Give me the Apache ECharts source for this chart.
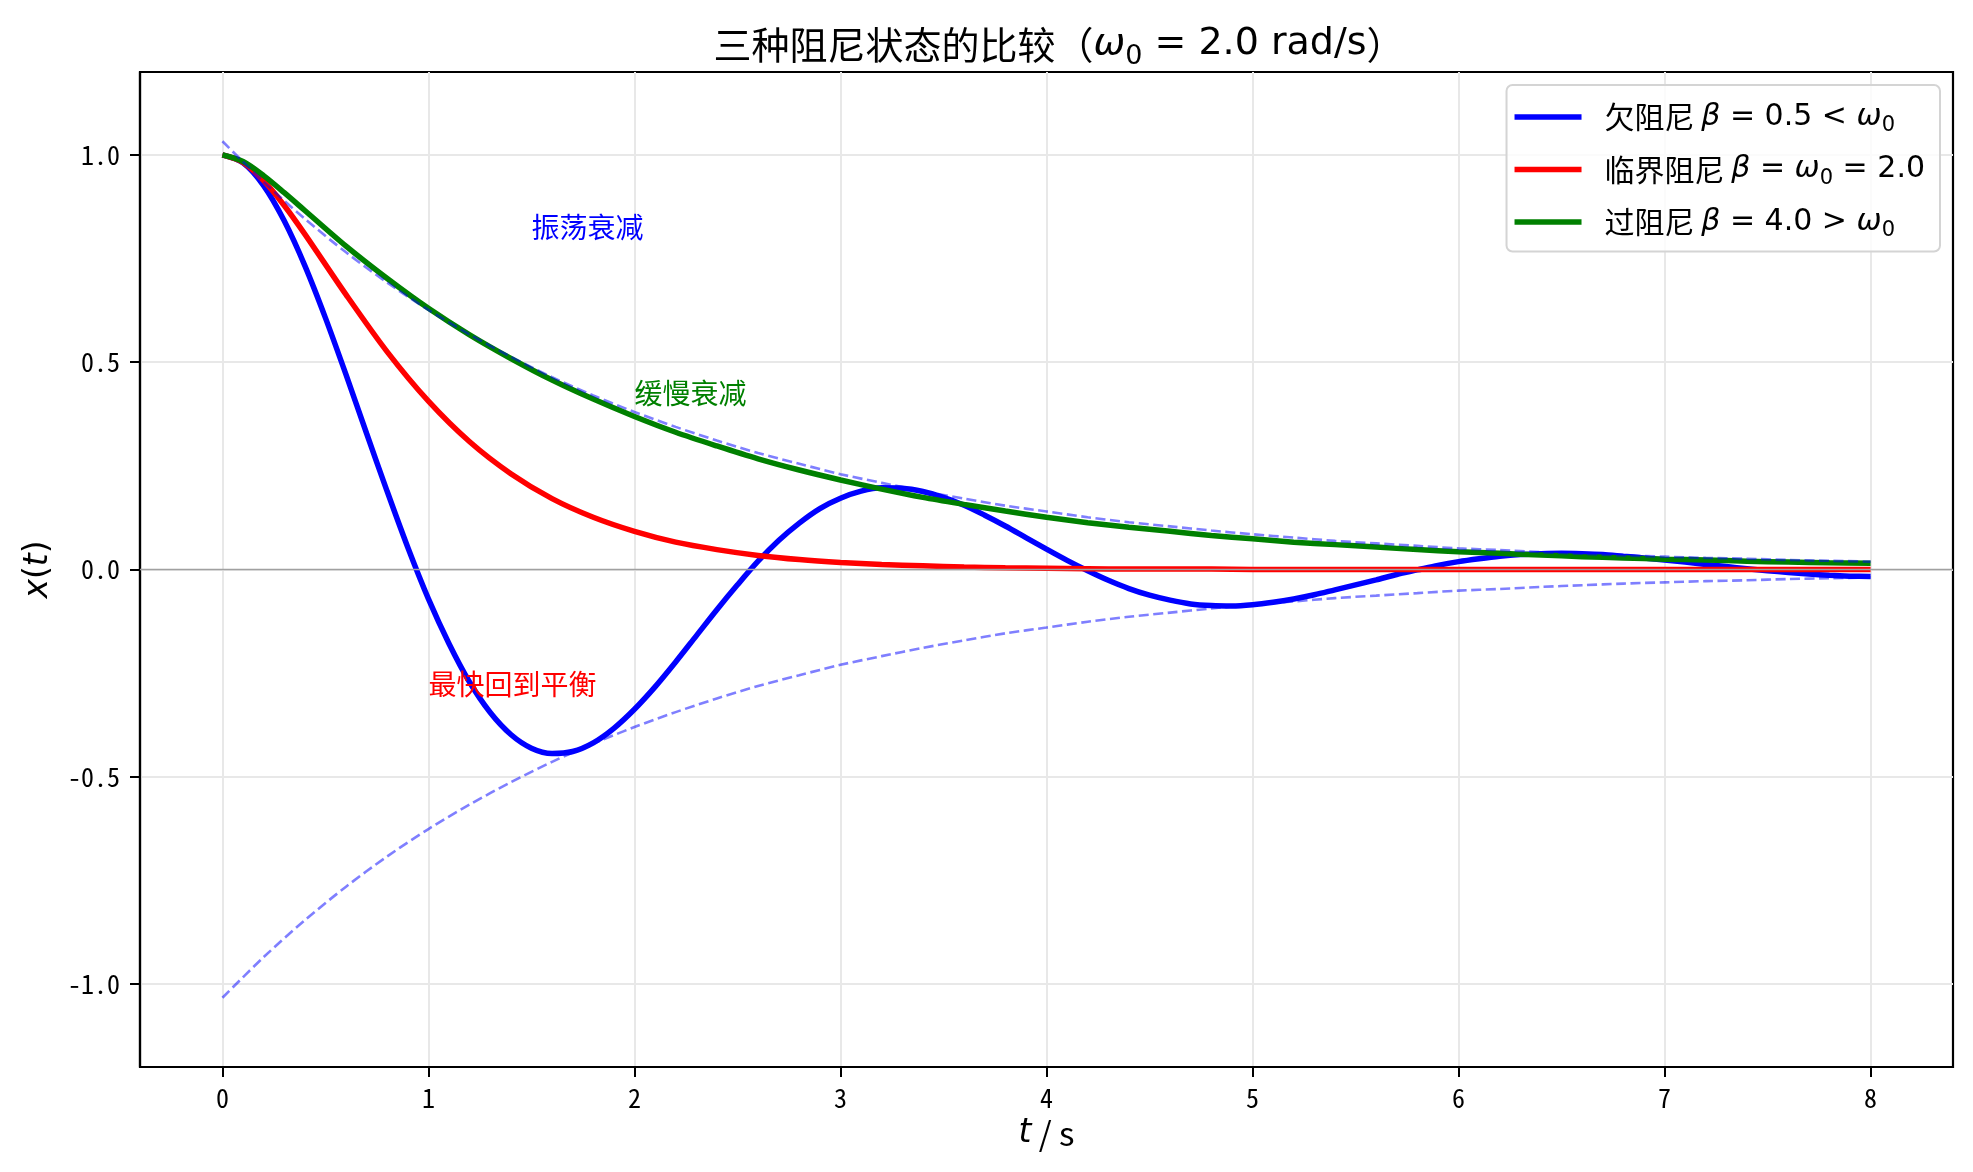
<!DOCTYPE html>
<html>
<head>
<meta charset="utf-8">
<title>三种阻尼状态的比较</title>
<script src="https://cdn.jsdelivr.net/npm/echarts@6/dist/echarts.min.js"></script>
<style>
  html, body { margin: 0; padding: 0; background: #fff; }
  #chart { width: 1973px; height: 1172px; }
</style>
</head>
<body>
<div id="chart"></div>
<script>
// time samples, s (denser near t = 0 and for the oscillating curve)
var tValues = [0, 0.1, 0.2, 0.3, 0.4, 0.6, 0.8, 1.0, 1.2, 1.4, 1.6, 1.8, 2.0, 2.2, 2.4, 2.6, 2.8, 3.0, 3.2, 3.4, 3.6, 3.8, 4.0,
    4.2, 4.4, 4.6, 4.8, 5.0, 5.2, 5.4, 5.6, 5.8, 6.0, 6.2, 6.4, 6.6, 6.8, 7.0, 7.2, 7.4, 7.6, 7.8, 8.0];
var tEnvelope = [0, 0.2, 0.4, 0.6, 0.8, 1.0, 1.2, 1.4, 1.6, 1.8, 2.0, 2.2, 2.4, 2.6, 2.8, 3.0, 3.2, 3.4, 3.6, 3.8, 4.0,
    4.2, 4.4, 4.6, 4.8, 5.0, 5.2, 5.4, 5.6, 5.8, 6.0, 6.2, 6.4, 6.6, 6.8, 7.0, 7.2, 7.4, 7.6, 7.8, 8.0];
var tFine = [0, 0.1, 0.2, 0.3, 0.4, 0.5, 0.6, 0.7, 0.8, 0.9, 1.0, 1.1, 1.2, 1.3, 1.4, 1.5, 1.6, 1.7, 1.8, 1.9, 2.0,
    2.1, 2.2, 2.3, 2.4, 2.5, 2.6, 2.7, 2.8, 2.9, 3.0, 3.1, 3.2, 3.3, 3.4, 3.5, 3.6, 3.7, 3.8, 3.9, 4.0,
    4.1, 4.2, 4.3, 4.4, 4.5, 4.6, 4.7, 4.8, 4.9, 5.0, 5.1, 5.2, 5.3, 5.4, 5.5, 5.6, 5.7, 5.8, 5.9, 6.0,
    6.1, 6.2, 6.3, 6.4, 6.5, 6.6, 6.7, 6.8, 6.9, 7.0, 7.1, 7.2, 7.3, 7.4, 7.5, 7.6, 7.7, 7.8, 7.9, 8.0];

// x(t)
var underDamped = [1.000, 0.981, 0.926, 0.841, 0.733, 0.607, 0.470, 0.328, 0.188, 0.053, -0.071,
    -0.179, -0.272, -0.345, -0.398, -0.431, -0.444, -0.439, -0.418, -0.383, -0.337,
    -0.283, -0.223, -0.160, -0.097, -0.037, 0.020, 0.070, 0.112, 0.147, 0.172,
    0.189, 0.197, 0.196, 0.188, 0.174, 0.155, 0.131, 0.105, 0.077, 0.049,
    0.022, -0.003, -0.026, -0.046, -0.062, -0.074, -0.083, -0.087, -0.088, -0.085,
    -0.079, -0.071, -0.061, -0.049, -0.037, -0.025, -0.012, -0.001, 0.010, 0.019,
    0.026, 0.032, 0.036, 0.038, 0.039, 0.038, 0.036, 0.032, 0.028, 0.023,
    0.018, 0.012, 0.007, 0.002, -0.003, -0.007, -0.011, -0.014, -0.016, -0.017];
var criticalDamped = [1.000, 0.982, 0.938, 0.878, 0.809, 0.663, 0.525, 0.406, 0.308, 0.231, 0.171, 0.126, 0.092,
    0.066, 0.048, 0.034, 0.024, 0.017, 0.012, 0.009, 0.006, 0.004, 0.003,
    0.002, 0.001, 0.001, 0.001, 0, 0, 0, 0, 0, 0,
    0, 0, 0, 0, 0, 0, 0, 0, 0, 0];
var overDamped = [1.000, 0.984, 0.950, 0.909, 0.866, 0.780, 0.702, 0.630, 0.566, 0.509, 0.457, 0.411, 0.369,
    0.331, 0.298, 0.267, 0.240, 0.216, 0.194, 0.174, 0.157, 0.141, 0.126,
    0.113, 0.102, 0.092, 0.082, 0.074, 0.066, 0.060, 0.054, 0.048, 0.043,
    0.039, 0.035, 0.031, 0.028, 0.025, 0.023, 0.020, 0.018, 0.016, 0.015];
var envelopeUpper = [1.033, 0.935, 0.846, 0.765, 0.692, 0.626, 0.567, 0.513, 0.464, 0.420, 0.380,
    0.344, 0.311, 0.281, 0.255, 0.230, 0.209, 0.189, 0.171, 0.154, 0.140,
    0.126, 0.114, 0.104, 0.094, 0.085, 0.077, 0.069, 0.063, 0.057, 0.051,
    0.047, 0.042, 0.038, 0.034, 0.031, 0.028, 0.026, 0.023, 0.021, 0.019];
var envelopeLower = [-1.033, -0.935, -0.846, -0.765, -0.692, -0.626, -0.567, -0.513, -0.464, -0.420, -0.380,
    -0.344, -0.311, -0.281, -0.255, -0.230, -0.209, -0.189, -0.171, -0.154, -0.140,
    -0.126, -0.114, -0.104, -0.094, -0.085, -0.077, -0.069, -0.063, -0.057, -0.051,
    -0.047, -0.042, -0.038, -0.034, -0.031, -0.028, -0.026, -0.023, -0.021, -0.019];

var seriesNames = ['欠阻尼 β = 0.5 < ω_0', '临界阻尼 β = ω_0 = 2.0', '过阻尼 β = 4.0 > ω_0'];
var xTicks = [0, 1, 2, 3, 4, 5, 6, 7, 8];
var yTicks = [-1.0, -0.5, 0, 0.5, 1.0];
var notes = [
    { t: 1.5, x: 0.8, text: '振荡衰减', color: '#0000ff' },
    { t: 2.0, x: 0.4, text: '缓慢衰减', color: '#008000' },
    { t: 1.0, x: -0.3, text: '最快回到平衡', color: '#ff0000' }
];

var CJK = 'Noto Sans CJK SC';
var MATH = 'DejaVu Sans';
var TICK = '"Noto Sans Mono CJK SC", "Noto Sans CJK SC"';

function pairs(ts, ys) {
    return ts.map(function (t, i) { return [t, ys[i]]; });
}

// greek letters italic, "_0" as a lowered subscript, the rest upright
function mathRich(str) {
    return str.split(/([βω]|_0)/).filter(function (s) { return s !== ''; }).map(function (s) {
        if (s === 'β' || s === 'ω') return '{i|' + s + '}';
        if (s === '_0') return '{s|0}';
        return '{m|' + s + '}';
    }).join('');
}

function mathStyles(size, subPad) {
    return {
        c: { fontFamily: CJK, fontSize: size, color: '#000' },
        i: { fontFamily: MATH, fontStyle: 'italic', fontSize: size, color: '#000' },
        m: { fontFamily: MATH, fontSize: size, color: '#000' },
        s: { fontFamily: MATH, fontSize: Math.round(size * 0.7), color: '#000', padding: [subPad, 0, 0, 0] }
    };
}

function curve(name, ts, data, color) {
    return {
        name: name, type: 'line', data: pairs(ts, data),
        smooth: 0.3, smoothConstraint: false, symbol: 'none', z: 3,
        lineStyle: { color: color, width: 5.5 },
        itemStyle: { color: color }
    };
}

function envelope(data) {
    return {
        name: 'envelope', type: 'line', data: pairs(tEnvelope, data),
        smooth: 0.3, smoothConstraint: false, symbol: 'none', z: 4, silent: true,
        lineStyle: { color: '#0000ff', opacity: 0.5, width: 2.6, type: [10, 4.5] }
    };
}

var chart = echarts.init(document.getElementById('chart'));

chart.setOption({
    backgroundColor: '#fff',
    animation: false,
    title: {
        text: '{c|三种阻尼状态的比较（}' + mathRich('ω_0 = 2.0 rad/s') + '{c|）}',
        left: 1059, top: 19, padding: 0,
        textAlign: 'center',
        textStyle: {
            fontFamily: CJK, fontSize: 38, fontWeight: 'normal', color: '#000',
            rich: mathStyles(38, 24)
        }
    },
    legend: {
        data: seriesNames,
        orient: 'vertical', right: 33, top: 85,
        padding: [17, 15, 10, 8],
        itemWidth: 67, itemHeight: 34, itemGap: 18,
        icon: 'path://M0,0H67V5.5H0Z',
        selectedMode: false,
        backgroundColor: 'rgba(255,255,255,0.8)',
        borderColor: '#d4d4d4', borderWidth: 2, borderRadius: 6,
        formatter: function (name) {
            var k = name.indexOf(' ');
            return '{c|' + name.slice(0, k + 1) + '}' + mathRich(name.slice(k + 1));
        },
        textStyle: {
            fontFamily: CJK, fontSize: 30, color: '#000', padding: [0, 0, 0, 18],
            rich: mathStyles(30, 18)
        }
    },
    grid: {
        left: 140, right: 20, top: 72, bottom: 105,
        show: true, borderColor: '#000', borderWidth: 2.2,
        outerBoundsMode: 'none'
    },
    xAxis: {
        type: 'value', min: -0.4, max: 8.4,
        name: '{i|t}{r| / s}', nameLocation: 'middle', nameGap: 50,
        nameTextStyle: {
            rich: {
                i: { fontFamily: MATH, fontStyle: 'italic', fontSize: 33, color: '#000' },
                r: { fontFamily: CJK, fontSize: 33, color: '#000' }
            }
        },
        axisLine: { show: true, onZero: false, lineStyle: { color: '#000', width: 2.2 } },
        axisTick: { show: true, inside: false, length: 10, customValues: xTicks, lineStyle: { color: '#000', width: 2 } },
        axisLabel: {
            customValues: xTicks, margin: 18, fontFamily: TICK, fontSize: 26, color: '#000',
            formatter: function (v) { return String(v); }
        },
        splitLine: { show: true, lineStyle: { color: '#e8e8e8', width: 2 } }
    },
    yAxis: {
        type: 'value', min: -1.2, max: 1.2,
        name: '{i|x}{r|(}{i|t}{r|)}', nameLocation: 'middle', nameGap: 85, nameRotate: 90,
        nameTextStyle: {
            rich: {
                i: { fontFamily: MATH, fontStyle: 'italic', fontSize: 33, color: '#000' },
                r: { fontFamily: MATH, fontSize: 33, color: '#000' }
            }
        },
        axisLine: { show: true, onZero: false, lineStyle: { color: '#000', width: 2.2 } },
        axisTick: { show: true, inside: false, length: 10, customValues: yTicks, lineStyle: { color: '#000', width: 2 } },
        axisLabel: {
            customValues: yTicks, margin: 20, fontFamily: TICK, fontSize: 26, color: '#000',
            formatter: function (v) { return v.toFixed(1); }
        },
        splitLine: { show: true, lineStyle: { color: '#e8e8e8', width: 2 } }
    },
    series: [
        {
            name: 'zero', type: 'line', data: [], z: 1, silent: true,
            markLine: {
                silent: true, symbol: 'none', label: { show: false },
                lineStyle: { color: '#a0a0a0', width: 1.4, type: 'solid' },
                data: [{ yAxis: 0 }]
            }
        },
        curve(seriesNames[0], tFine, underDamped, '#0000ff'),
        curve(seriesNames[1], tValues, criticalDamped, '#ff0000'),
        curve(seriesNames[2], tValues, overDamped, '#008000'),
        envelope(envelopeUpper),
        envelope(envelopeLower),
        {
            name: 'notes', type: 'scatter', symbolSize: 0, z: 6, silent: true,
            itemStyle: { opacity: 1 },
            data: notes.map(function (n) {
                return {
                    value: [n.t, n.x], name: n.text,
                    label: { color: n.color }
                };
            }),
            label: {
                show: true, position: [0, 0], align: 'left', verticalAlign: 'bottom', offset: [0, 4],
                fontFamily: CJK, fontSize: 28, opacity: 1,
                textBorderWidth: 0, textShadowBlur: 0,
                formatter: function (p) { return p.name; }
            }
        }
    ]
});
</script>
</body>
</html>
